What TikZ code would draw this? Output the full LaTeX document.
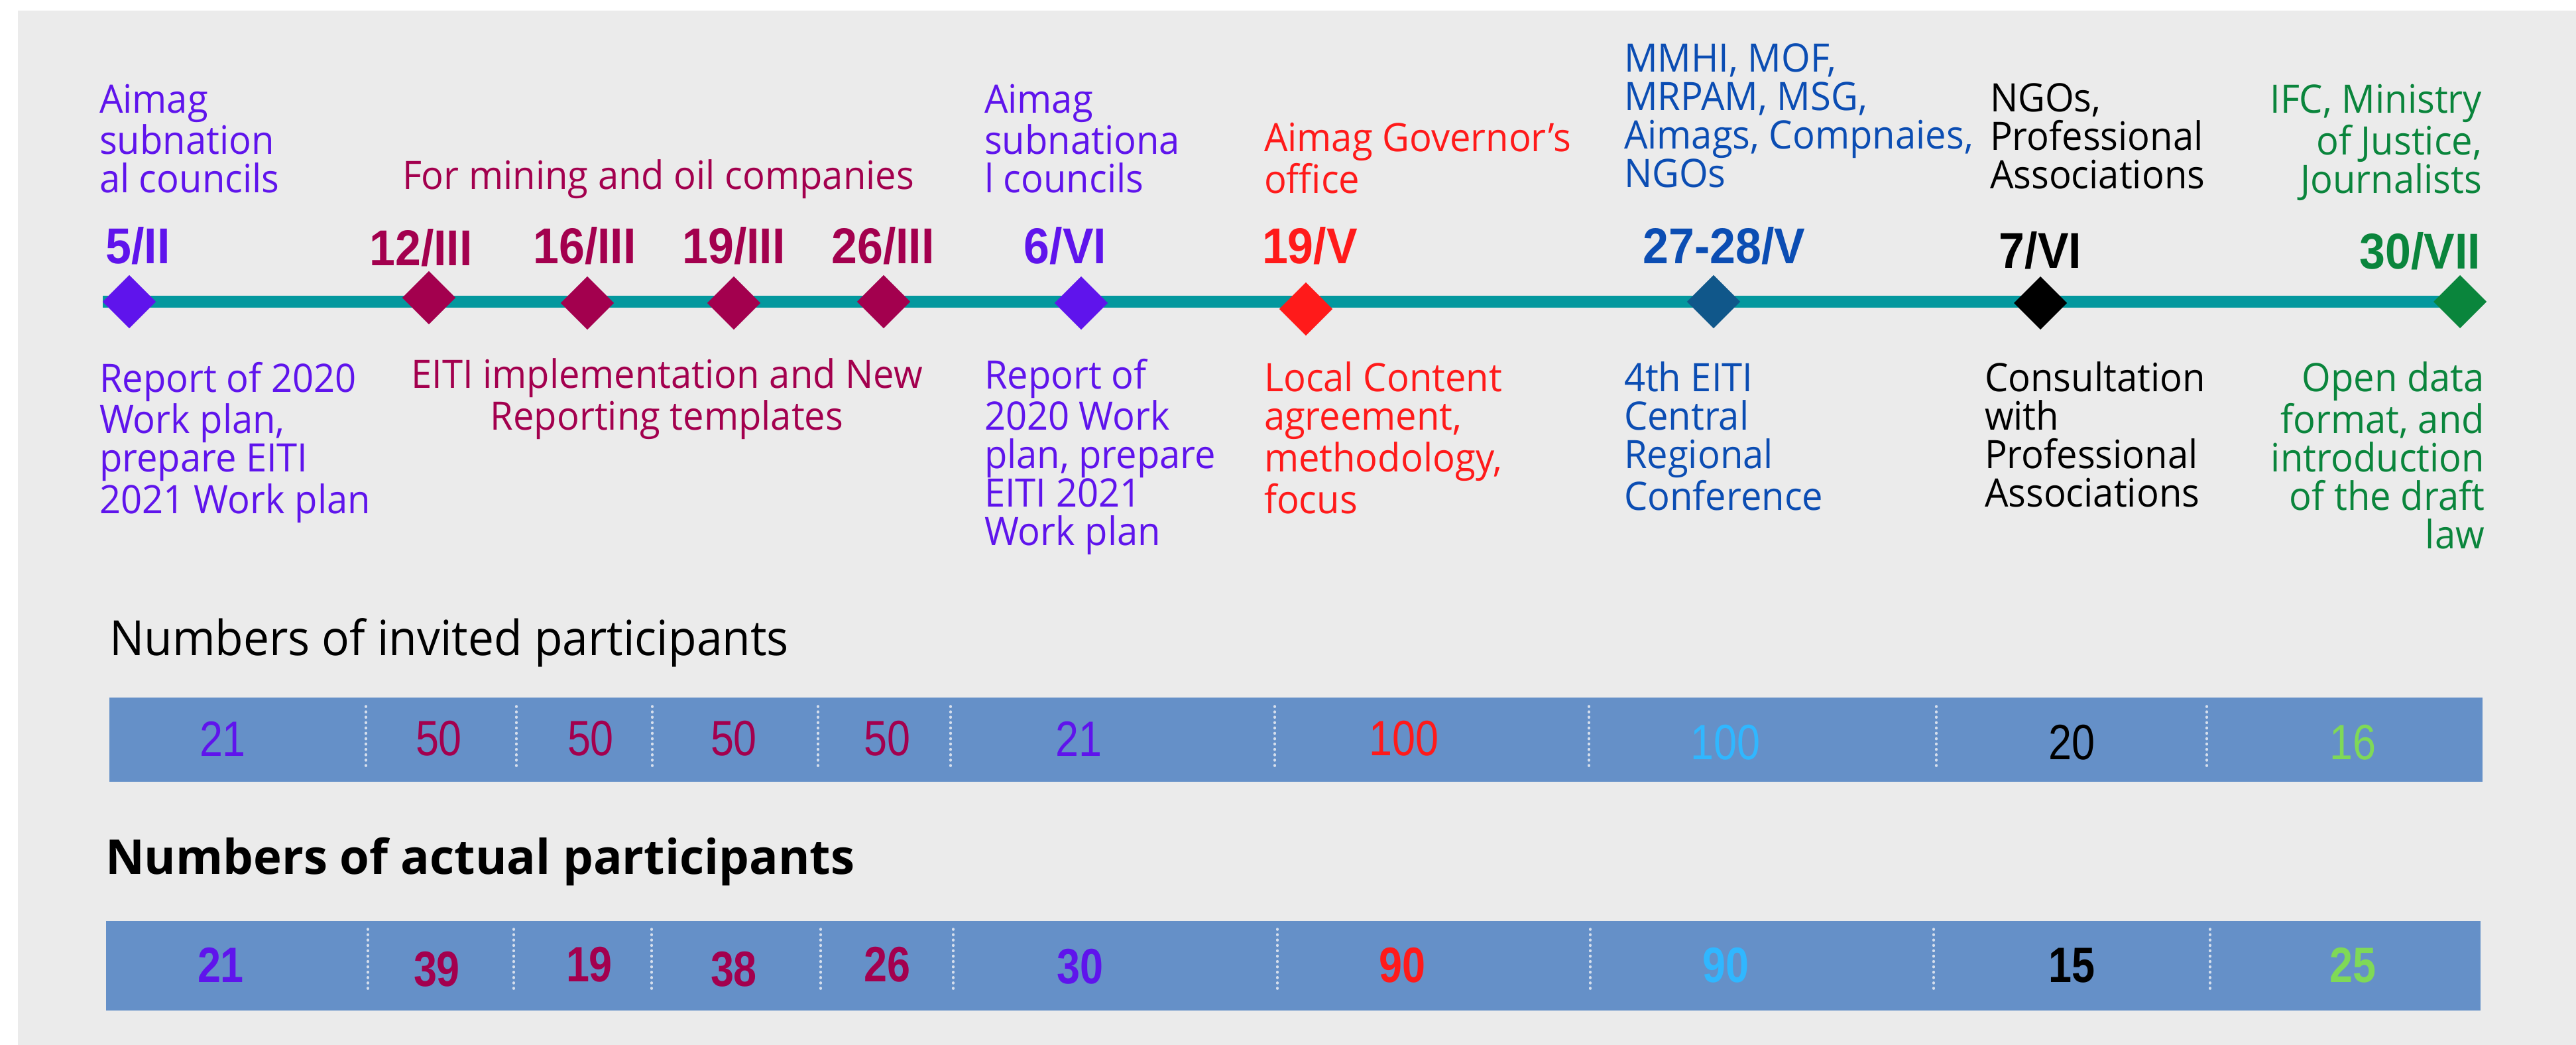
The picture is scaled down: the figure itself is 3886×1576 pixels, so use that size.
\documentclass[tikz,border=0pt]{standalone}
\usepackage{fontspec}
\setmainfont{Open Sans}[FakeStretch=0.95]
\newfontfamily\headfont{Open Sans}
\newfontfamily\datefont[FakeStretch=0.92]{Liberation Sans}
\newfontfamily\countfont[FakeStretch=0.84]{Liberation Sans}
\usetikzlibrary{shapes.geometric, backgrounds}
\definecolor{violetc}{HTML}{5F14EC}
\definecolor{crimson}{HTML}{A3004E}
\definecolor{redc}{HTML}{FF1A1A}
\definecolor{bluec}{HTML}{0B4DB3}
\definecolor{navyc}{HTML}{10578A}
\definecolor{greenc}{HTML}{0A853C}
\definecolor{tealc}{HTML}{03989E}
\definecolor{bggray}{HTML}{EBEBEB}
\definecolor{barblue}{HTML}{6590C8}
\definecolor{skyc}{HTML}{30B7FF}
\definecolor{limec}{HTML}{7FD957}
\definecolor{sepgray}{HTML}{D5DEEC}
\pgfdeclarelayer{back}
\pgfsetlayers{background,back,main}
\tikzset{
  every node/.style={inner sep=0pt, outer sep=0pt},
  milestone/.style={shape=diamond, minimum width=0.8cm, minimum height=0.8cm, fill=#1},
  datelbl/.style={font=\datefont\bfseries\fontsize{21.6}{24}\selectfont, text=#1, anchor=base},
  note/.style={font=\fontsize{16.8}{16.5}\selectfont, text=#1, align=left, anchor=north west},
  noter/.style={note=#1, align=right, anchor=north east},
  timeline/.style={line width=0.18cm, tealc},
  bar/.style={fill=barblue},
  sep/.style={draw=sepgray, line width=1pt, dash pattern=on 0.3pt off 2pt, line cap=round},
  invited/.style={font=\countfont\fontsize{21.3}{24}\selectfont, text=#1},
  actual/.style={font=\countfont\bfseries\fontsize{21.3}{24}\selectfont, text=#1},
  heading/.style={font=\fontsize{20.8}{24}\selectfont, anchor=base west}
}

\begin{document}
\begin{tikzpicture}[x=0.01cm, y=-0.01cm]
  \useasboundingbox (0,0) rectangle (3886,1576);
  \begin{pgfonlayer}{background}
    \fill[bggray] (27,16) rectangle (3886,1576);
  \end{pgfonlayer}

  % milestones on the time line
  \node[milestone=violetc] (feb5)  at (195,455)  {};
  \node[milestone=crimson] (mar12) at (647,449)  {};
  \node[milestone=crimson] (mar16) at (886,457)  {};
  \node[milestone=crimson] (mar19) at (1107,457) {};
  \node[milestone=crimson] (mar26) at (1333,455) {};
  \node[milestone=violetc] (jun6)  at (1631,457) {};
  \node[milestone=redc]    (may19) at (1970,466) {};
  \node[milestone=navyc]   (may27) at (2585,455) {};
  \node[milestone=black]   (jun7)  at (3078,457) {};
  \node[milestone=greenc]  (jul30) at (3711,455) {};

  \begin{pgfonlayer}{back}
    \draw[timeline] (feb5.west) -- (jul30.center);
  \end{pgfonlayer}

  % dates
  \node[datelbl=violetc] (feb5d)  at (208,397)  {5/II};
  \node[datelbl=crimson] (mar12d) at (635,400)  {12/III};
  \node[datelbl=crimson] (mar16d) at (882,398)  {16/III};
  \node[datelbl=crimson] (mar19d) at (1107,398) {19/III};
  \node[datelbl=crimson] (mar26d) at (1332,398) {26/III};
  \node[datelbl=violetc] (jun6d)  at (1607,398) {6/VI};
  \node[datelbl=redc]    (may19d) at (1976,398) {19/V};
  \node[datelbl=bluec]   (may27d) at (2601,398) {27-28/V};
  \node[datelbl=black]   (jun7d)  at (3078,405) {7/VI};
  \node[datelbl=greenc, anchor=base east] (jul30d) at (3742,406) {30/VII};

  % who was there
  \node[note=violetc] (feb5w)  at (150,127)  {Aimag\\subnation\\al councils};
  \node[note=crimson, anchor=base west] (marw) at (607,285) {For mining and oil companies};
  \node[note=violetc] (jun6w)  at (1485,127) {Aimag\\subnationa\\l councils};
  \node[note=redc]    (may19w) at (1907,185) {Aimag Governor’s\\office};
  \node[note=bluec]   (may27w) at (2450,66)  {MMHI, MOF,\\MRPAM, MSG,\\Aimags, Compnaies,\\NGOs};
  \node[note=black]   (jun7w)  at (3002,126) {NGOs,\\Professional\\Associations};
  \node[noter=greenc] (jul30w) at (3744,127) {IFC, Ministry\\of Justice,\\Journalists};

  % what was done
  \node[note=violetc] (feb5s)  at (150,546)  {Report of 2020\\Work plan,\\prepare EITI\\2021 Work plan};
  \node[note=crimson, align=center, anchor=north] (mars) at (1006,541) {EITI implementation and New\\Reporting templates};
  \node[note=violetc] (jun6s)  at (1485,541) {Report of\\2020 Work\\plan, prepare\\EITI 2021\\Work plan};
  \node[note=redc]    (may19s) at (1907,546) {Local Content\\agreement,\\methodology,\\focus};
  \node[note=bluec]   (may27s) at (2450,546) {4th EITI\\Central\\Regional\\Conference};
  \node[note=black]   (jun7s)  at (2994,546) {Consultation\\with\\Professional\\Associations};
  \node[noter=greenc] (jul30s) at (3748,546) {Open data\\format, and\\introduction\\of the draft\\law};

  % invited
  \node[heading] (invited) at (165,988) {Numbers of invited participants};
  \fill[bar] (165,1052) rectangle (3745,1179);
  \foreach \x in {552,779,984,1234,1434,1923,2397,2921,3329}
    \draw[sep] (\x,1065) -- (\x,1156);
  \node[invited=violetc] (i1)  at (336,1114)  {21};
  \node[invited=crimson] (i2)  at (662,1114)  {50};
  \node[invited=crimson] (i3)  at (891,1114)  {50};
  \node[invited=crimson] (i4)  at (1107,1114) {50};
  \node[invited=crimson] (i5)  at (1338,1114) {50};
  \node[invited=violetc] (i6)  at (1627,1114) {21};
  \node[invited=redc]    (i7)  at (2118,1114) {100};
  \node[invited=skyc]    (i8)  at (2603,1120) {100};
  \node[invited=black]   (i9)  at (3125,1120) {20};
  \node[invited=limec]   (i10) at (3549,1120) {16};

  % actual
  \node[heading, font=\headfont\bfseries\fontsize{20.6}{24}\selectfont] (actual) at (159,1318) {Numbers of actual participants};
  \fill[bar] (160,1389) rectangle (3742,1524);
  \foreach \x in {555,775,983,1238,1438,1927,2399,2917,3334}
    \draw[sep] (\x,1401) -- (\x,1498);
  \node[actual=violetc] (a1)  at (333,1455)  {21};
  \node[actual=crimson] (a2)  at (659,1462)  {39};
  \node[actual=crimson] (a3)  at (889,1455)  {19};
  \node[actual=crimson] (a4)  at (1107,1462) {38};
  \node[actual=crimson] (a5)  at (1338,1455) {26};
  \node[actual=violetc] (a6)  at (1629,1458) {30};
  \node[actual=redc]    (a7)  at (2115,1456) {90};
  \node[actual=skyc]    (a8)  at (2603,1456) {90};
  \node[actual=black]   (a9)  at (3125,1456) {15};
  \node[actual=limec]   (a10) at (3549,1456) {25};
\end{tikzpicture}
\end{document}
